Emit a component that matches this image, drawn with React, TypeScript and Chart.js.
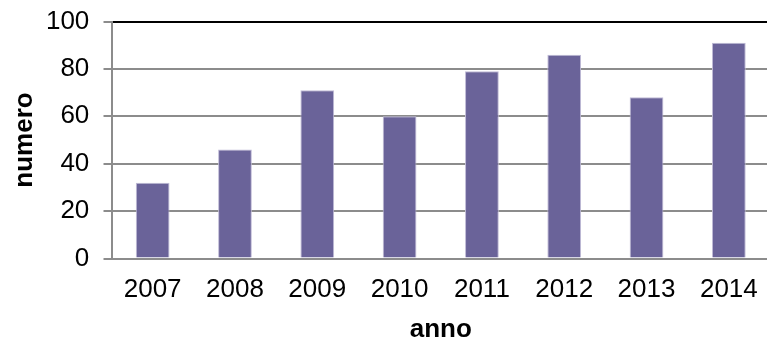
import { useEffect, useRef } from "react";
import { Chart, registerables } from "chart.js";

Chart.register(...registerables);

// Yearly counts
const years: string[] = ["2007", "2008", "2009", "2010", "2011", "2012", "2013", "2014"];
const counts: number[] = [32, 46, 71, 60, 79, 86, 68, 91];

// Axis settings
const yMin = 0;
const yMax = 100;
const yStep = 20;
const xTitle = "anno";
const yTitle = "numero";

const FONT = "'Liberation Sans', Arial, Helvetica, sans-serif";
const GRID_GREY = "#8c8c8c";
const BAR_FILL = "#6a6399";

export default function App() {
  const canvasRef = useRef<HTMLCanvasElement | null>(null);

  useEffect(() => {
    const canvas = canvasRef.current;
    if (!canvas) return;

    const chart = new Chart(canvas, {
      type: "bar",
      data: {
        labels: years,
        datasets: [
          {
            data: counts,
            backgroundColor: BAR_FILL,
            borderColor: "#bfbad6",
            borderWidth: 1,
            borderSkipped: "bottom",
            barPercentage: 0.41,
            categoryPercentage: 1,
          },
        ],
      },
      options: {
        responsive: true,
        maintainAspectRatio: false,
        animation: false,
        layout: { padding: { top: 21.5, left: 0, right: 0, bottom: 0 } },
        plugins: {
          legend: { display: false },
          tooltip: { enabled: false },
        },
        scales: {
          x: {
            offset: true,
            grid: { display: false, drawTicks: false, tickLength: 0 },
            border: { display: true, color: GRID_GREY, width: 2 },
            ticks: {
              color: "#000",
              padding: 16.2,
              maxRotation: 0,
              font: { family: FONT, size: 26 },
            },
            title: {
              display: true,
              text: xTitle,
              color: "#000",
              padding: { top: 0, bottom: 0 },
              font: { family: FONT, size: 26, weight: "bold", lineHeight: 0.62 },
            },
            afterFit: (scale: any) => {
              scale.height = 79.5;
              scale.paddingLeft = 0;
              scale.paddingRight = 0;
            },
          },
          y: {
            min: yMin,
            max: yMax,
            grid: {
              color: (ctx: any) => (ctx.tick && ctx.tick.value === yMax ? "#000" : GRID_GREY),
              tickColor: GRID_GREY,
              lineWidth: 2,
              drawTicks: true,
              tickLength: 8,
            },
            border: { display: true, color: GRID_GREY, width: 2 },
            ticks: {
              stepSize: yStep,
              color: "#000",
              padding: 14.2,
              font: { family: FONT, size: 26 },
            },
            title: {
              display: true,
              text: yTitle,
              color: "#000",
              padding: { top: 9, bottom: 0 },
              font: { family: FONT, size: 26, weight: "bold", lineHeight: 1.2 },
            },
            afterFit: (scale: any) => {
              scale.width = 111.5;
              scale.paddingTop = 0;
              scale.paddingBottom = 0;
            },
          },
        },
      },
    });

    return () => chart.destroy();
  }, []);

  return (
    <div
      style={{
        position: "fixed",
        left: 0,
        top: 0,
        width: 767,
        height: 338,
        overflow: "hidden",
        background: "#fff",
      }}
    >
      <div style={{ position: "relative", width: 770, height: 338 }}>
        <canvas ref={canvasRef} />
      </div>
    </div>
  );
}
